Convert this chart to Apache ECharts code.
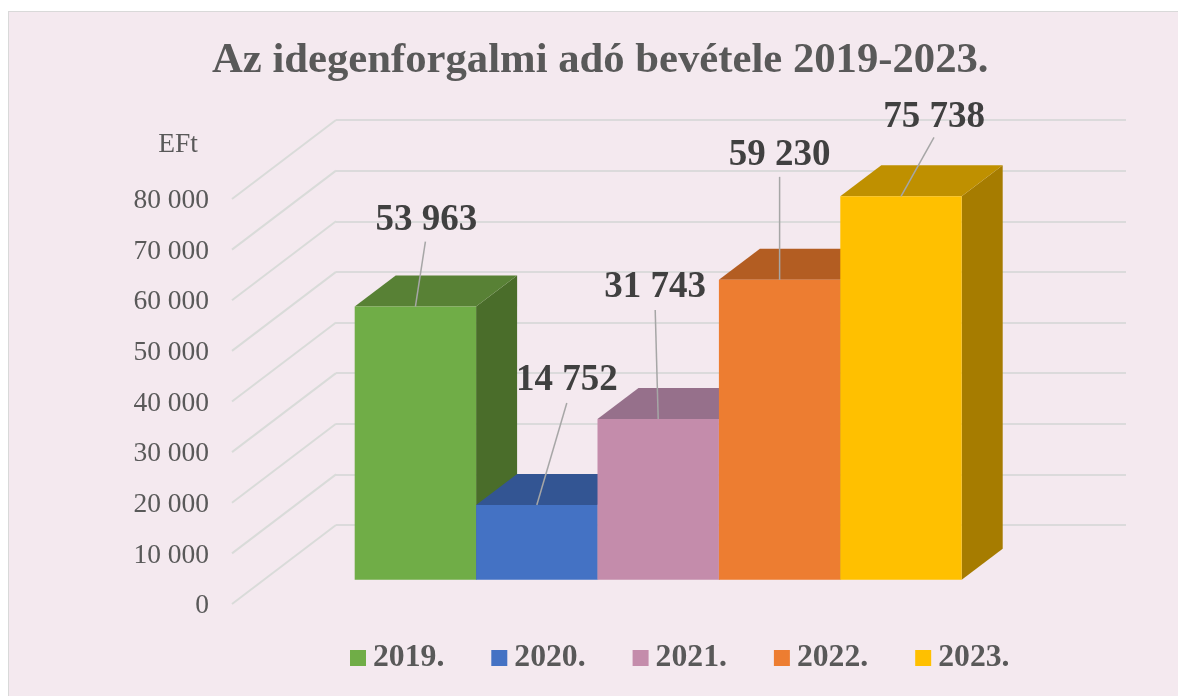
<!DOCTYPE html>
<html><head><meta charset="utf-8">
<style>
html,body{margin:0;padding:0;background:#fff;width:1178px;height:696px;overflow:hidden}
#bg{position:absolute;left:8px;top:11px;right:0;bottom:0;background:#F4E9EF;border-left:1.5px solid #D9D9D9;border-top:1.5px solid #D9D9D9}
#chart{position:absolute;left:0;top:0;width:1178px;height:696px}
</style>
<script src="https://cdn.jsdelivr.net/npm/echarts@6/dist/echarts.min.js"></script>
</head><body><div id="bg"></div><div id="chart"></div>
<script>
const titleText = 'Az idegenforgalmi adó bevétele 2019-2023.';
const unitLabel = 'EFt';
const years = ['2019.', '2020.', '2021.', '2022.', '2023.'];
const revenue = [53963, 14752, 31743, 59230, 75738];
const valueTicks = [0, 10000, 20000, 30000, 40000, 50000, 60000, 70000, 80000];

// Styling, kept apart from the data
const frontColors = ['#70AD47', '#4472C4', '#C48CAB', '#ED7D31', '#FFC000'];
const topColors   = ['#588135', '#335593', '#96708B', '#B35D22', '#BF9000'];
const sideColors  = ['#4A6D2A', '#2A4A80', '#7D5C73', '#96501D', '#A67C00'];
const leaderShift = [[10, -65], [30, -102], [-3, -109], [0, -103], [33, -59]];
const labelShift  = [[11, -86], [30, -125], [-3, -132], [0, -124], [33, -79]];
const depthX = 41, depthY = -31;
const wallX = 104, wallY = -79, wallLift = -2;
const fmt = v => String(v).replace(/\B(?=(\d{3})+$)/g, ' ');
const serif = '"Liberation Serif","Times New Roman",serif';

function barItem(i) {
  return function (params, api) {
    const top = api.coord([api.value(0), api.value(1)]);
    const base = api.coord([api.value(0), 0]);
    const w = api.size([1, 0])[0];
    const L = top[0] - w / 2, R = top[0] + w / 2, T = top[1], B = base[1];
    return {
      type: 'group',
      children: [
        { type: 'polygon', shape: { points: [[R, T], [R + depthX, T + depthY], [R + depthX, B + depthY], [R, B]] }, style: { fill: sideColors[i] } },
        { type: 'polygon', shape: { points: [[L, T], [L + depthX, T + depthY], [R + depthX, T + depthY], [R, T]] }, style: { fill: topColors[i] } },
        { type: 'rect', shape: { x: L, y: T, width: w, height: B - T }, style: { fill: frontColors[i] } },
        { type: 'line', shape: { x1: top[0], y1: T, x2: top[0] + leaderShift[i][0], y2: T + leaderShift[i][1] }, style: { stroke: '#A6A6A6', lineWidth: 1.5 } },
        { type: 'text', x: top[0] + labelShift[i][0], y: T + labelShift[i][1],
          style: { text: fmt(api.value(1)), fill: '#404040', font: 'bold 37px ' + serif, align: 'center', verticalAlign: 'middle' } }
      ]
    };
  };
}

const chart = echarts.init(document.getElementById('chart'), null, { renderer: 'canvas' });
const yBase = { type: 'value', min: 0, max: 80000, interval: 10000 };
chart.setOption({
  animation: false,
  backgroundColor: 'transparent',
  title: { text: titleText, left: 207, top: 34,
    textStyle: { fontFamily: serif, fontWeight: 'bold', fontSize: 42.7, color: '#595959' } },
  legend: {
    data: years, left: 345, top: 637, icon: 'rect', itemWidth: 16, itemHeight: 16, itemGap: 47,
    selectedMode: false,
    textStyle: { fontFamily: serif, fontWeight: 'bold', fontSize: 31.7, color: '#595959', padding: [0, 0, 0, 2] }
  },
  grid: [
    { left: 336, top: 120, width: 790, height: 405 },
    { left: 232, top: 201, width: 104, height: 405 },
    { left: 354.7, top: 174.7, width: 607, height: 405 }
  ],
  xAxis: [
    { gridIndex: 0, type: 'value', min: 0, max: 1, show: false },
    { gridIndex: 1, type: 'value', min: 0, max: 1, show: false },
    { gridIndex: 2, type: 'category', data: years, show: false }
  ],
  yAxis: [
    Object.assign({}, yBase, { gridIndex: 0, axisLabel: { show: false }, axisLine: { show: false }, axisTick: { show: false },
      splitLine: { show: true, lineStyle: { color: '#DBDADB', width: 2 } } }),
    Object.assign({}, yBase, { gridIndex: 1, axisLine: { show: false }, axisTick: { show: false }, splitLine: { show: false },
      name: unitLabel, nameLocation: 'end', nameGap: 42,
      nameTextStyle: { fontFamily: serif, fontSize: 27.5, color: '#595959', align: 'right', padding: [0, 34, 0, 0] },
      axisLabel: { margin: 23, fontFamily: serif, fontSize: 27.5, color: '#595959', formatter: fmt } }),
    Object.assign({}, yBase, { gridIndex: 2, show: false })
  ],
  series: [
    { type: 'custom', name: 'walls', xAxisIndex: 1, yAxisIndex: 1, silent: true, z: 1, clip: false,
      data: valueTicks.map(v => [0, v]),
      encode: { x: 0, y: 1 },
      renderItem: function (params, api) {
        const p = api.coord([0, api.value(1)]);
        return { type: 'line', shape: { x1: p[0], y1: p[1] + wallLift, x2: p[0] + wallX, y2: p[1] + wallLift + wallY },
          style: { stroke: '#D9DBD9', lineWidth: 2 } };
      } }
  ].concat(years.map((y, i) => ({
    type: 'custom', name: y, xAxisIndex: 2, yAxisIndex: 2, z: 2, clip: false, silent: true,
    itemStyle: { color: frontColors[i] },
    data: [[i, revenue[i]]],
    encode: { x: 0, y: 1 },
    renderItem: barItem(i)
  })))
});
</script></body></html>
